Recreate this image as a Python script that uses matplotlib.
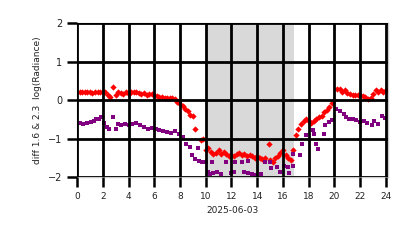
import matplotlib
matplotlib.use("Agg")
import matplotlib.pyplot as plt

# Red series (diamonds): hours, values
red_h = [0.2, 0.4, 0.6, 0.8, 1.0, 1.2, 1.4, 1.6, 1.8, 2.0,
         2.2, 2.4, 2.6, 2.8, 3.0, 3.2, 3.4, 3.6, 3.8, 4.0,
         4.2, 4.4, 4.6, 4.8, 5.0, 5.2, 5.4, 5.6, 5.8, 6.0,
         6.2, 6.4, 6.6, 6.8, 7.0, 7.2, 7.4, 7.6, 7.8, 8.0,
         8.2, 8.4, 8.6, 8.8, 9.0, 9.2, 9.6, 9.8, 10.0, 10.2,
         10.4, 10.6, 10.8, 11.0, 11.2, 11.4, 11.6, 11.8, 12.0, 12.2,
         12.4, 12.6, 12.8, 13.0, 13.2, 13.4, 13.6, 13.8, 14.0, 14.2,
         14.4, 14.6, 14.9, 15.0, 15.2, 15.4, 15.6, 15.8, 16.0, 16.2,
         16.4, 16.6, 16.8, 17.0, 17.2, 17.4, 17.6, 17.8, 18.0, 18.2,
         18.4, 18.6, 18.8, 19.0, 19.2, 19.4, 19.6, 19.8, 20.0, 20.2,
         20.4, 20.6, 20.8, 21.0, 21.2, 21.4, 21.6, 21.8, 22.0, 22.2,
         22.4, 22.6, 22.8, 23.0, 23.2, 23.4, 23.6, 23.8, 24.0]
red_v = [0.22, 0.21, 0.22, 0.20, 0.21, 0.19, 0.20, 0.22, 0.21, 0.20,
         0.20, 0.12, 0.08, 0.35, 0.12, 0.22, 0.18, 0.15, 0.20, 0.15,
         0.20, 0.22, 0.20, 0.18, 0.15, 0.18, 0.14, 0.15, 0.16, 0.12,
         0.10, 0.08, 0.07, 0.06, 0.05, 0.06, 0.05, 0.02, -0.05, -0.10,
         -0.15, -0.22, -0.28, -0.38, -0.42, -0.75, -1.05, -1.00, -1.30, -1.25,
         -1.35, -1.40, -1.38, -1.30, -1.40, -1.35, -1.40, -1.45, -1.42, -1.45,
         -1.40, -1.38, -1.42, -1.40, -1.45, -1.42, -1.45, -1.50, -1.45, -1.50,
         -1.52, -1.50, -1.15, -1.55, -1.60, -1.50, -1.45, -1.38, -1.30, -1.42,
         -1.50, -1.55, -1.30, -0.92, -0.75, -0.62, -0.55, -0.50, -0.55, -0.60,
         -0.55, -0.48, -0.45, -0.42, -0.32, -0.26, -0.18, -0.08, 0.00, 0.28,
         0.30, 0.22, 0.25, 0.18, 0.15, 0.12, 0.12, 0.13, 0.12, 0.10,
         0.08, 0.02, 0.05, 0.15, 0.25, 0.20, 0.26, 0.22, 0.26]

# Purple series (squares): hours, values
pur_h = [0.2, 0.5, 0.8, 1.1, 1.3, 1.5, 1.7, 1.9, 2.1, 2.3,
         2.5, 2.8, 3.0, 3.2, 3.4, 3.7, 4.0, 4.3, 4.6, 4.9,
         5.2, 5.5, 5.8, 6.1, 6.4, 6.7, 7.0, 7.3, 7.6, 7.9,
         8.2, 8.5, 8.8, 8.9, 9.2, 9.5, 9.4, 9.7, 10.0, 10.2,
         10.3, 10.5, 10.6, 10.9, 11.2, 11.6, 12.0, 12.2, 12.3, 12.85,
         13.0, 13.3, 13.3, 13.6, 13.9, 14.3, 14.6, 15.0, 15.1, 15.5,
         15.8, 16.1, 16.4, 16.5, 16.8, 16.8, 17.3, 17.5, 17.8, 18.3,
         18.4, 18.6, 18.7, 19.2, 19.3, 19.6, 19.8, 20.1, 20.4, 20.7,
         20.9, 21.1, 21.4, 21.7, 22.0, 22.3, 22.5, 22.9, 23.1, 23.4,
         23.7, 23.9]
pur_v = [-0.60, -0.62, -0.60, -0.58, -0.55, -0.50, -0.48, -0.43, -0.60, -0.69,
         -0.74, -0.43, -0.74, -0.62, -0.66, -0.63, -0.65, -0.63, -0.60, -0.66,
         -0.69, -0.74, -0.72, -0.74, -0.78, -0.80, -0.82, -0.86, -0.80, -0.87,
         -0.95, -1.13, -1.21, -1.43, -1.52, -1.58, -1.25, -1.60, -1.62, -1.87,
         -1.92, -1.60, -1.90, -1.88, -1.92, -1.60, -1.90, -1.88, -1.60, -1.62,
         -1.88, -1.90, -1.58, -1.92, -1.94, -1.93, -1.62, -1.60, -1.77, -1.73,
         -1.86, -1.72, -1.75, -1.90, -1.70, -1.39, -1.43, -1.13, -0.91, -0.78,
         -0.88, -1.13, -1.26, -0.87, -0.65, -0.56, -0.52, -0.22, -0.28, -0.35,
         -0.45, -0.48, -0.50, -0.52, -0.56, -0.55, -0.60, -0.65, -0.55, -0.62,
         -0.42, -0.47]

xticks = list(range(0, 25, 2))
yticks = [-2, -1, 0, 1, 2]
shade_start, shade_end = 10.0, 16.85

fig = plt.figure(figsize=(4.14, 2.48), dpi=100)
ax = fig.add_axes([0.186, 0.286, 0.751, 0.621])
ax.axvspan(shade_start, shade_end, color="#d9d9d9", zorder=0, lw=0)
ax.plot(red_h, red_v, linestyle="none", marker="D", markersize=3.2,
        color="#ff0000", markeredgewidth=0, zorder=2)
ax.plot(pur_h, pur_v, linestyle="none", marker="s", markersize=2.8,
        color="#800080", markeredgewidth=0, zorder=2)
ax.set_xlim(0, 24.15)
ax.set_ylim(-2, 2)
ax.set_xticks(xticks)
ax.set_yticks(yticks)
ax.grid(True, color="black", linewidth=2.0, zorder=3)
ax.set_axisbelow(False)
ax.tick_params(axis="both", length=7, width=1.8, color="black",
               labelcolor="#222222")
ax.tick_params(axis="x", labelsize=6.5)
ax.tick_params(axis="y", labelsize=7)
for s in ax.spines.values():
    s.set_color("#cccccc")
    s.set_linewidth(1.0)
ax.set_xlabel("2025-06-03", fontsize=6.5, color="#222222")
ax.set_ylabel("diff 1.6 & 2.3  log(Radiance)", fontsize=6.5, color="#222222")
fig.savefig("out.png", dpi=100)
